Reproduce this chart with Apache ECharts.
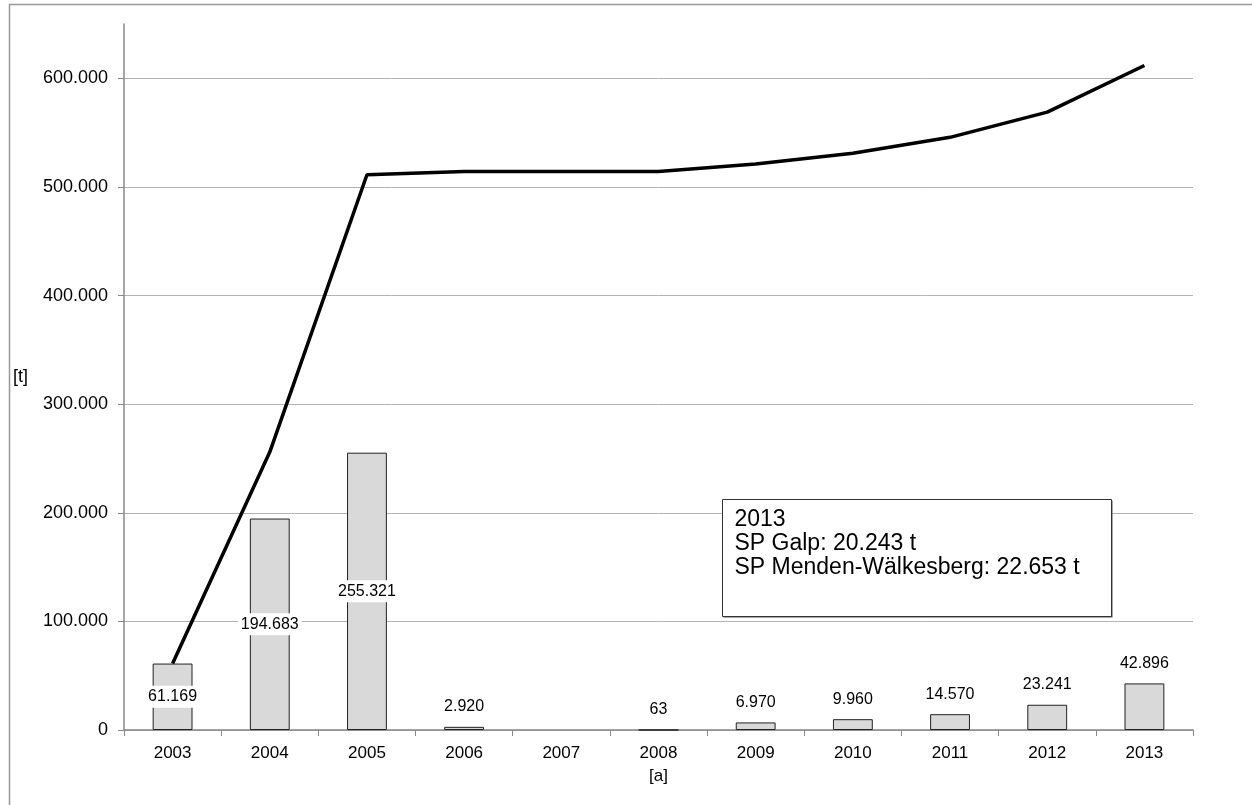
<!DOCTYPE html>
<html>
<head>
<meta charset="utf-8">
<script src="https://cdn.jsdelivr.net/npm/echarts@6/dist/echarts.min.js"></script>
<style>
  html, body { margin: 0; padding: 0; background: #ffffff; }
  #chart { width: 1252px; height: 805px; }
</style>
</head>
<body>
<div id="chart"></div>
<script>
// Years on the category axis
const years = ['2003', '2004', '2005', '2006', '2007', '2008', '2009', '2010', '2011', '2012', '2013'];
// Annual quantity [t]
const annual = [61169, 194683, 255321, 2920, 0, 63, 6970, 9960, 14570, 23241, 42896];
// Running total [t]
const total = [61169, 255852, 511173, 514093, 514093, 514156, 521126, 531086, 545656, 568897, 611793];
// Value-axis tick labels
const yTicks = [0, 100000, 200000, 300000, 400000, 500000, 600000];
// Note box lines
const noteLines = ['2013', 'SP Galp: 20.243 t', 'SP Menden-Wälkesberg: 22.653 t'];

const FONT = '"Liberation Sans", Arial, sans-serif';

// German thousands separator
function fmt(v) {
  return String(Math.round(v)).replace(/\B(?=(\d{3})+(?!\d))/g, '.');
}

const chart = echarts.init(document.getElementById('chart'), null, { renderer: 'canvas' });

const barData = annual.map(function (v) {
  const big = v > 50000;
  const item = {
    value: v,
    label: big ? {
      show: true, position: 'inside', backgroundColor: '#ffffff',
      padding: [3, 3], color: '#000', fontSize: 16, fontFamily: FONT
    } : {
      show: v > 0, position: 'top', distance: 12,
      color: '#000', fontSize: 16, fontFamily: FONT
    }
  };
  if (v === 0) item.itemStyle = { borderWidth: 0 };
  return item;
});

chart.setOption({
  animation: false,
  backgroundColor: '#ffffff',
  textStyle: { fontFamily: FONT },
  grid: { left: 124, right: 59, top: 24, bottom: 75 },
  xAxis: {
    type: 'category',
    data: years,
    name: '[a]',
    nameLocation: 'middle',
    nameGap: 38,
    nameTextStyle: { color: '#000', fontSize: 17, fontFamily: FONT },
    axisLine: { lineStyle: { color: '#888888', width: 1.5 } },
    axisTick: { show: true, alignWithLabel: false, length: 6, lineStyle: { color: '#888888' } },
    axisLabel: { color: '#000', fontSize: 17, margin: 15, fontFamily: FONT },
    splitLine: { show: false }
  },
  yAxis: {
    type: 'value',
    min: 0,
    max: 650000,
    interval: 100000,
    name: '[t]',
    nameLocation: 'middle',
    nameRotate: 0,
    nameGap: 96,
    nameTextStyle: { color: '#000', fontSize: 18, fontFamily: FONT },
    axisLine: { show: true, lineStyle: { color: '#888888', width: 1.5 } },
    axisTick: { show: true, length: 6, lineStyle: { color: '#888888' } },
    axisLabel: {
      color: '#000', fontSize: 18, margin: 16, fontFamily: FONT,
      showMaxLabel: false,
      formatter: function (v) { return yTicks.indexOf(v) >= 0 ? fmt(v) : ''; }
    },
    splitLine: { show: true, showMaxLine: false, lineStyle: { color: '#b3b3b3', width: 1 } }
  },
  series: [
    {
      type: 'bar',
      data: barData,
      barWidth: '41%',
      itemStyle: { color: '#d9d9d9', borderColor: '#222222', borderWidth: 1 },
      label: { formatter: function (p) { return fmt(p.value); } },
      z: 2
    },
    {
      type: 'line',
      data: total,
      symbol: 'none',
      lineStyle: { color: '#000000', width: 3.5 },
      z: 3
    }
  ],
  graphic: [
    {
      type: 'rect',
      shape: { x: 9.5, y: 4.5, width: 1260, height: 830 },
      style: { fill: 'none', stroke: '#999999', lineWidth: 1.5 },
      silent: true
    },
    {
      type: 'group',
      left: 722,
      top: 499,
      children: [
        {
          type: 'rect',
          shape: { x: 1, y: 1, width: 389, height: 117 },
          style: { fill: '#555555' },
          z: 10
        },
        {
          type: 'rect',
          shape: { x: 0, y: 0, width: 389, height: 117 },
          style: { fill: '#ffffff', stroke: '#333333', lineWidth: 1 },
          z: 11
        },
        {
          type: 'text',
          x: 12,
          y: 8,
          z: 12,
          style: {
            text: noteLines.join('\n'),
            font: '23px ' + FONT,
            fill: '#000000',
            lineHeight: 24
          }
        }
      ]
    }
  ]
});
</script>
</body>
</html>
